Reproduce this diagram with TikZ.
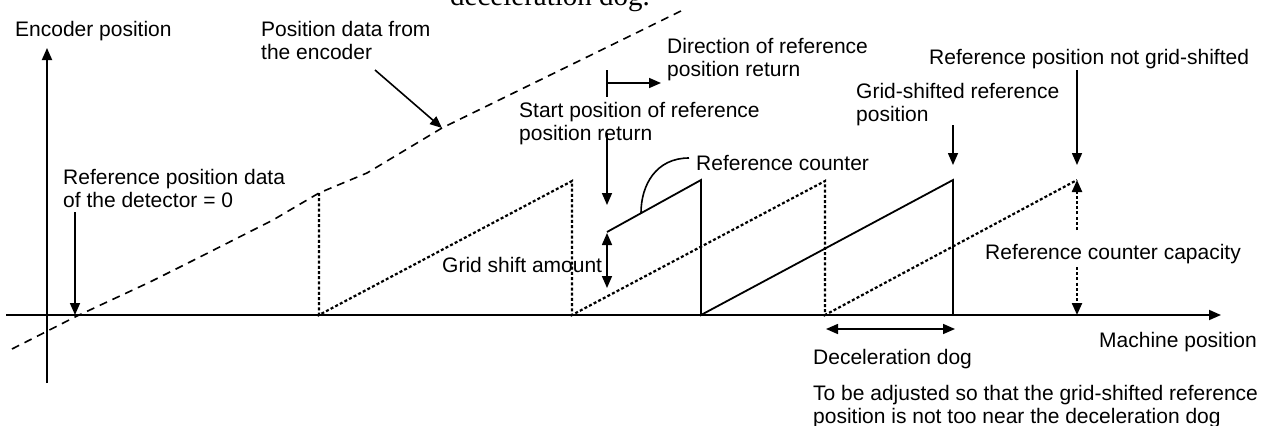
\documentclass[tikz,border=0pt]{standalone}
\usepackage{fontspec}
\setmainfont{Liberation Sans}
\newfontfamily\serifttl{Liberation Serif}
\usetikzlibrary{arrows.meta}
\begin{document}
\begin{tikzpicture}[x=1pt,y=-1pt,
  lbl/.style={anchor=base west, inner sep=0pt, font=\fontsize{21}{23}\selectfont, align=left},
  axis/.style={line width=1.8pt},
  lead/.style={line width=1.6pt},
  tip/.style={-{Triangle[length=12pt,width=10pt]}},
  dtip/.style={{Triangle[length=12pt,width=10pt]}-{Triangle[length=12pt,width=10pt]}},
  enc/.style={line width=1.6pt, dash pattern=on 8pt off 6pt},
  dots/.style={line width=2.2pt, dash pattern=on 3pt off 2.2pt},
  shifted/.style={line width=1.8pt},
]
\useasboundingbox (0,0) rectangle (1278,426);

% cropped title fragment
\node[anchor=base west, inner sep=0pt, font=\serifttl\fontsize{29}{32}\selectfont] (ttl) at (450,5) {deceleration dog.};

% labels (multi-line nodes are placed by the baseline of their last line)
\node[lbl] (encpos) at (15,36) {Encoder position};
\node[lbl] (posdata) at (261,59) {Position data from\\the encoder};
\node[lbl] (dir) at (667,76) {Direction of reference\\position return};
\node[lbl] (start) at (519,140) {Start position of reference\\position return};
\node[lbl] (refcnt) at (696,170) {Reference counter};
\node[lbl] (gshift) at (856,121) {Grid-shifted reference\\position};
\node[lbl] (notshift) at (929,64) {Reference position not grid-shifted};
\node[lbl] (refdata) at (63,207) {Reference position data\\of the detector = 0};
\node[lbl] (gsamt) at (442,272) {Grid shift amount};
\node[lbl] (capacity) at (985,259) {Reference counter capacity};
\node[lbl] (machpos) at (1099,347) {Machine position};
\node[lbl] (decel) at (813,364) {Deceleration dog};
\node[lbl] (adjust) at (813,423) {To be adjusted so that the grid-shifted reference\\position is not too near the deceleration dog};

% axes
\coordinate (xs) at (6,315); \coordinate (xe) at (1221,315);
\coordinate (ys) at (47,383); \coordinate (ye) at (47,48);
\draw[axis,tip] (xs) -- (xe);
\draw[axis,tip] (ys) -- (ye);

% encoder position data (dashed)
\draw[enc] (12,349) -- (77,316) -- (150,282) -- (190,262) -- (273,220) -- (319,193)
  -- (367,173) -- (442,128) -- (683,10);

% reference counter, not grid-shifted (dotted)
\draw[dots] (319,193) -- (319,315) -- (572,181) -- (572,315) -- (825,181) -- (825,315) -- (1077,180);

% reference counter, grid-shifted (solid)
\draw[shifted] (607,232) -- (701,180) -- (701,315) -- (953,180) -- (953,315);

% connectors
\coordinate (pd1) at (375,70); \coordinate (pd2) at (442,128);
\draw[lead,tip] (pd1) -- (pd2);

\coordinate (rd1) at (75,212); \coordinate (rd2) at (75,315);
\draw[lead,tip] (rd1) -- (rd2);

\coordinate (dt1) at (607,70); \coordinate (dt2) at (607,97);
\coordinate (da1) at (607,83); \coordinate (da2) at (661,83);
\draw[lead] (dt1) -- (dt2);
\draw[lead,tip] (da1) -- (da2);

\coordinate (sp1) at (607,133); \coordinate (sp2) at (607,205);
\draw[lead,tip] (sp1) -- (sp2);

\coordinate (ga1) at (607,233); \coordinate (ga2) at (607,288);
\draw[lead,dtip] (ga1) -- (ga2);

\coordinate (rc1) at (689,158); \coordinate (rc2) at (641,213);
\draw[lead] (rc1) .. controls (656,158) and (641,185) .. (rc2);

\coordinate (gs1) at (953,125); \coordinate (gs2) at (953,165);
\draw[lead,tip] (gs1) -- (gs2);

\coordinate (ns1) at (1077,70); \coordinate (ns2) at (1077,165);
\draw[lead,tip] (ns1) -- (ns2);

\coordinate (cp1) at (1077,230); \coordinate (cp2) at (1077,180);
\coordinate (cp3) at (1077,267); \coordinate (cp4) at (1077,315);
\draw[dots,tip] (cp1) -- (cp2);
\draw[dots,tip] (cp3) -- (cp4);

\coordinate (dd1) at (826,329); \coordinate (dd2) at (955,329);
\draw[lead,dtip] (dd1) -- (dd2);
\end{tikzpicture}
\end{document}
